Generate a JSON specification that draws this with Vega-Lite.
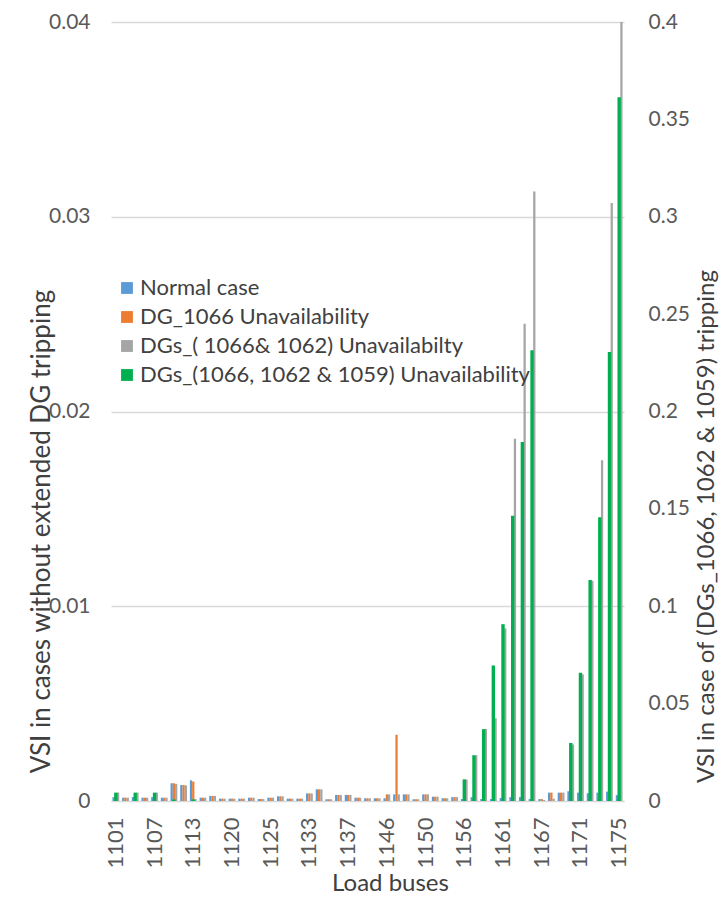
{
  "$schema": "https://vega.github.io/schema/vega-lite/v6.json",
  "width": 513,
  "height": 779,
  "autosize": {"type": "none"},
  "padding": {"left": 111, "top": 22, "right": 103, "bottom": 97},
  "background": "white",
  "config": {
    "font": "Lato",
    "view": {"stroke": null},
    "axis": {"labelFont": "Lato", "titleFont": "Lato", "titleFontWeight": "normal", "labelColor": "#595959", "titleColor": "#404040"}
  },
  "datasets": {
    "primary": [
      {"bus": "1101", "case": "Normal case", "vsi": 0.0002}, {"bus": "1101", "case": " DG_1066 Unavailability", "vsi": 0.0002}, {"bus": "1101", "case": "DGs_( 1066& 1062) Unavailabilty", "vsi": 0.00043},
      {"bus": "1103", "case": "Normal case", "vsi": 0.00017}, {"bus": "1103", "case": " DG_1066 Unavailability", "vsi": 0.00017}, {"bus": "1103", "case": "DGs_( 1066& 1062) Unavailabilty", "vsi": 0.00017},
      {"bus": "1104", "case": "Normal case", "vsi": 0.0002}, {"bus": "1104", "case": " DG_1066 Unavailability", "vsi": 0.0002}, {"bus": "1104", "case": "DGs_( 1066& 1062) Unavailabilty", "vsi": 0.00043},
      {"bus": "1105", "case": "Normal case", "vsi": 0.00017}, {"bus": "1105", "case": " DG_1066 Unavailability", "vsi": 0.00017}, {"bus": "1105", "case": "DGs_( 1066& 1062) Unavailabilty", "vsi": 0.00017},
      {"bus": "1107", "case": "Normal case", "vsi": 0.0002}, {"bus": "1107", "case": " DG_1066 Unavailability", "vsi": 0.0002}, {"bus": "1107", "case": "DGs_( 1066& 1062) Unavailabilty", "vsi": 0.00043},
      {"bus": "1108", "case": "Normal case", "vsi": 0.00017}, {"bus": "1108", "case": " DG_1066 Unavailability", "vsi": 0.00017}, {"bus": "1108", "case": "DGs_( 1066& 1062) Unavailabilty", "vsi": 0.00017},
      {"bus": "1110", "case": "Normal case", "vsi": 0.00091}, {"bus": "1110", "case": " DG_1066 Unavailability", "vsi": 0.00091}, {"bus": "1110", "case": "DGs_( 1066& 1062) Unavailabilty", "vsi": 0.00088},
      {"bus": "1111", "case": "Normal case", "vsi": 0.00082}, {"bus": "1111", "case": " DG_1066 Unavailability", "vsi": 0.00082}, {"bus": "1111", "case": "DGs_( 1066& 1062) Unavailabilty", "vsi": 0.0008},
      {"bus": "1113", "case": "Normal case", "vsi": 0.00106}, {"bus": "1113", "case": " DG_1066 Unavailability", "vsi": 0.001}, {"bus": "1113", "case": "DGs_( 1066& 1062) Unavailabilty", "vsi": 0.0001},
      {"bus": "1115", "case": "Normal case", "vsi": 0.00017}, {"bus": "1115", "case": " DG_1066 Unavailability", "vsi": 0.00017}, {"bus": "1115", "case": "DGs_( 1066& 1062) Unavailabilty", "vsi": 0.00017},
      {"bus": "1116", "case": "Normal case", "vsi": 0.00026}, {"bus": "1116", "case": " DG_1066 Unavailability", "vsi": 0.00026}, {"bus": "1116", "case": "DGs_( 1066& 1062) Unavailabilty", "vsi": 0.00026},
      {"bus": "1118", "case": "Normal case", "vsi": 0.00012}, {"bus": "1118", "case": " DG_1066 Unavailability", "vsi": 0.00012}, {"bus": "1118", "case": "DGs_( 1066& 1062) Unavailabilty", "vsi": 0.00012},
      {"bus": "1120", "case": "Normal case", "vsi": 0.00012}, {"bus": "1120", "case": " DG_1066 Unavailability", "vsi": 0.00012}, {"bus": "1120", "case": "DGs_( 1066& 1062) Unavailabilty", "vsi": 0.00012},
      {"bus": "1121", "case": "Normal case", "vsi": 0.00012}, {"bus": "1121", "case": " DG_1066 Unavailability", "vsi": 0.00012}, {"bus": "1121", "case": "DGs_( 1066& 1062) Unavailabilty", "vsi": 0.00012},
      {"bus": "1122", "case": "Normal case", "vsi": 0.00017}, {"bus": "1122", "case": " DG_1066 Unavailability", "vsi": 0.00017}, {"bus": "1122", "case": "DGs_( 1066& 1062) Unavailabilty", "vsi": 0.00017},
      {"bus": "1124", "case": "Normal case", "vsi": 0.0001}, {"bus": "1124", "case": " DG_1066 Unavailability", "vsi": 0.0001}, {"bus": "1124", "case": "DGs_( 1066& 1062) Unavailabilty", "vsi": 0.0001},
      {"bus": "1125", "case": "Normal case", "vsi": 0.00017}, {"bus": "1125", "case": " DG_1066 Unavailability", "vsi": 0.00017}, {"bus": "1125", "case": "DGs_( 1066& 1062) Unavailabilty", "vsi": 0.00017},
      {"bus": "1127", "case": "Normal case", "vsi": 0.00024}, {"bus": "1127", "case": " DG_1066 Unavailability", "vsi": 0.00024}, {"bus": "1127", "case": "DGs_( 1066& 1062) Unavailabilty", "vsi": 0.00024},
      {"bus": "1129", "case": "Normal case", "vsi": 0.00012}, {"bus": "1129", "case": " DG_1066 Unavailability", "vsi": 0.00012}, {"bus": "1129", "case": "DGs_( 1066& 1062) Unavailabilty", "vsi": 0.00012},
      {"bus": "1131", "case": "Normal case", "vsi": 0.00012}, {"bus": "1131", "case": " DG_1066 Unavailability", "vsi": 0.00012}, {"bus": "1131", "case": "DGs_( 1066& 1062) Unavailabilty", "vsi": 0.00012},
      {"bus": "1133", "case": "Normal case", "vsi": 0.00039}, {"bus": "1133", "case": " DG_1066 Unavailability", "vsi": 0.00039}, {"bus": "1133", "case": "DGs_( 1066& 1062) Unavailabilty", "vsi": 0.00039},
      {"bus": "1134", "case": "Normal case", "vsi": 0.0006}, {"bus": "1134", "case": " DG_1066 Unavailability", "vsi": 0.0006}, {"bus": "1134", "case": "DGs_( 1066& 1062) Unavailabilty", "vsi": 0.0006},
      {"bus": "1135", "case": "Normal case", "vsi": 0.00009}, {"bus": "1135", "case": " DG_1066 Unavailability", "vsi": 0.00009}, {"bus": "1135", "case": "DGs_( 1066& 1062) Unavailabilty", "vsi": 0.00009},
      {"bus": "1136", "case": "Normal case", "vsi": 0.00031}, {"bus": "1136", "case": " DG_1066 Unavailability", "vsi": 0.00031}, {"bus": "1136", "case": "DGs_( 1066& 1062) Unavailabilty", "vsi": 0.00031},
      {"bus": "1137", "case": "Normal case", "vsi": 0.00031}, {"bus": "1137", "case": " DG_1066 Unavailability", "vsi": 0.00031}, {"bus": "1137", "case": "DGs_( 1066& 1062) Unavailabilty", "vsi": 0.00031},
      {"bus": "1139", "case": "Normal case", "vsi": 0.00017}, {"bus": "1139", "case": " DG_1066 Unavailability", "vsi": 0.00017}, {"bus": "1139", "case": "DGs_( 1066& 1062) Unavailabilty", "vsi": 0.00017},
      {"bus": "1141", "case": "Normal case", "vsi": 0.00014}, {"bus": "1141", "case": " DG_1066 Unavailability", "vsi": 0.00014}, {"bus": "1141", "case": "DGs_( 1066& 1062) Unavailabilty", "vsi": 0.00014},
      {"bus": "1144", "case": "Normal case", "vsi": 0.00014}, {"bus": "1144", "case": " DG_1066 Unavailability", "vsi": 0.00014}, {"bus": "1144", "case": "DGs_( 1066& 1062) Unavailabilty", "vsi": 0.00014},
      {"bus": "1146", "case": "Normal case", "vsi": 0.00014}, {"bus": "1146", "case": " DG_1066 Unavailability", "vsi": 0.00034}, {"bus": "1146", "case": "DGs_( 1066& 1062) Unavailabilty", "vsi": 0.00034},
      {"bus": "1147", "case": "Normal case", "vsi": 0.00034}, {"bus": "1147", "case": " DG_1066 Unavailability", "vsi": 0.0034}, {"bus": "1147", "case": "DGs_( 1066& 1062) Unavailabilty", "vsi": 0.00034},
      {"bus": "1148", "case": "Normal case", "vsi": 0.00034}, {"bus": "1148", "case": " DG_1066 Unavailability", "vsi": 0.00034}, {"bus": "1148", "case": "DGs_( 1066& 1062) Unavailabilty", "vsi": 0.00034},
      {"bus": "1149", "case": "Normal case", "vsi": 0.00009}, {"bus": "1149", "case": " DG_1066 Unavailability", "vsi": 0.00009}, {"bus": "1149", "case": "DGs_( 1066& 1062) Unavailabilty", "vsi": 0.00009},
      {"bus": "1150", "case": "Normal case", "vsi": 0.00034}, {"bus": "1150", "case": " DG_1066 Unavailability", "vsi": 0.00034}, {"bus": "1150", "case": "DGs_( 1066& 1062) Unavailabilty", "vsi": 0.00034},
      {"bus": "1152", "case": "Normal case", "vsi": 0.00022}, {"bus": "1152", "case": " DG_1066 Unavailability", "vsi": 0.00022}, {"bus": "1152", "case": "DGs_( 1066& 1062) Unavailabilty", "vsi": 0.00022},
      {"bus": "1153", "case": "Normal case", "vsi": 0.00014}, {"bus": "1153", "case": " DG_1066 Unavailability", "vsi": 0.00014}, {"bus": "1153", "case": "DGs_( 1066& 1062) Unavailabilty", "vsi": 0.00014},
      {"bus": "1155", "case": "Normal case", "vsi": 0.0002}, {"bus": "1155", "case": " DG_1066 Unavailability", "vsi": 0.0002}, {"bus": "1155", "case": "DGs_( 1066& 1062) Unavailabilty", "vsi": 0.0002},
      {"bus": "1156", "case": "Normal case", "vsi": 0.0001}, {"bus": "1156", "case": " DG_1066 Unavailability", "vsi": 0.0001}, {"bus": "1156", "case": "DGs_( 1066& 1062) Unavailabilty", "vsi": 0.0011},
      {"bus": "1157", "case": "Normal case", "vsi": 0.0002}, {"bus": "1157", "case": " DG_1066 Unavailability", "vsi": 0.0002}, {"bus": "1157", "case": "DGs_( 1066& 1062) Unavailabilty", "vsi": 0.00235},
      {"bus": "1158", "case": "Normal case", "vsi": 0.0001}, {"bus": "1158", "case": " DG_1066 Unavailability", "vsi": 0.0001}, {"bus": "1158", "case": "DGs_( 1066& 1062) Unavailabilty", "vsi": 0.0037},
      {"bus": "1160", "case": "Normal case", "vsi": 0.0001}, {"bus": "1160", "case": " DG_1066 Unavailability", "vsi": 0.0001}, {"bus": "1160", "case": "DGs_( 1066& 1062) Unavailabilty", "vsi": 0.00425},
      {"bus": "1161", "case": "Normal case", "vsi": 0.00015}, {"bus": "1161", "case": " DG_1066 Unavailability", "vsi": 0.00015}, {"bus": "1161", "case": "DGs_( 1066& 1062) Unavailabilty", "vsi": 0.00886},
      {"bus": "1162", "case": "Normal case", "vsi": 0.0002}, {"bus": "1162", "case": " DG_1066 Unavailability", "vsi": 0.0002}, {"bus": "1162", "case": "DGs_( 1066& 1062) Unavailabilty", "vsi": 0.0186},
      {"bus": "1164", "case": "Normal case", "vsi": 0.0002}, {"bus": "1164", "case": " DG_1066 Unavailability", "vsi": 0.0002}, {"bus": "1164", "case": "DGs_( 1066& 1062) Unavailabilty", "vsi": 0.0245},
      {"bus": "1165", "case": "Normal case", "vsi": 0.0001}, {"bus": "1165", "case": " DG_1066 Unavailability", "vsi": 0.0001}, {"bus": "1165", "case": "DGs_( 1066& 1062) Unavailabilty", "vsi": 0.0313},
      {"bus": "1167", "case": "Normal case", "vsi": 0.0001}, {"bus": "1167", "case": " DG_1066 Unavailability", "vsi": 0.0001}, {"bus": "1167", "case": "DGs_( 1066& 1062) Unavailabilty", "vsi": 0.00005},
      {"bus": "1168", "case": "Normal case", "vsi": 0.00043}, {"bus": "1168", "case": " DG_1066 Unavailability", "vsi": 0.00043}, {"bus": "1168", "case": "DGs_( 1066& 1062) Unavailabilty", "vsi": 0.00012},
      {"bus": "1169", "case": "Normal case", "vsi": 0.00043}, {"bus": "1169", "case": " DG_1066 Unavailability", "vsi": 0.00043}, {"bus": "1169", "case": "DGs_( 1066& 1062) Unavailabilty", "vsi": 0.00043},
      {"bus": "1170", "case": "Normal case", "vsi": 0.0005}, {"bus": "1170", "case": " DG_1066 Unavailability", "vsi": 0.0004}, {"bus": "1170", "case": "DGs_( 1066& 1062) Unavailabilty", "vsi": 0.0029},
      {"bus": "1171", "case": "Normal case", "vsi": 0.00043}, {"bus": "1171", "case": " DG_1066 Unavailability", "vsi": 0.0004}, {"bus": "1171", "case": "DGs_( 1066& 1062) Unavailabilty", "vsi": 0.0065},
      {"bus": "1172", "case": "Normal case", "vsi": 0.0004}, {"bus": "1172", "case": " DG_1066 Unavailability", "vsi": 0.0004}, {"bus": "1172", "case": "DGs_( 1066& 1062) Unavailabilty", "vsi": 0.0113},
      {"bus": "1173", "case": "Normal case", "vsi": 0.00043}, {"bus": "1173", "case": " DG_1066 Unavailability", "vsi": 0.0004}, {"bus": "1173", "case": "DGs_( 1066& 1062) Unavailabilty", "vsi": 0.0175},
      {"bus": "1174", "case": "Normal case", "vsi": 0.00048}, {"bus": "1174", "case": " DG_1066 Unavailability", "vsi": 0.0004}, {"bus": "1174", "case": "DGs_( 1066& 1062) Unavailabilty", "vsi": 0.0307},
      {"bus": "1175", "case": "Normal case", "vsi": 0.0003}, {"bus": "1175", "case": " DG_1066 Unavailability", "vsi": 0.0003}, {"bus": "1175", "case": "DGs_( 1066& 1062) Unavailabilty", "vsi": 0.04}
    ],
    "secondary": [
      {"bus": "1101", "case": "DGs_(1066, 1062 & 1059) Unavailability", "vsi": 0.0043},
      {"bus": "1103", "case": "DGs_(1066, 1062 & 1059) Unavailability", "vsi": 0},
      {"bus": "1104", "case": "DGs_(1066, 1062 & 1059) Unavailability", "vsi": 0.0043},
      {"bus": "1105", "case": "DGs_(1066, 1062 & 1059) Unavailability", "vsi": 0},
      {"bus": "1107", "case": "DGs_(1066, 1062 & 1059) Unavailability", "vsi": 0.0043},
      {"bus": "1108", "case": "DGs_(1066, 1062 & 1059) Unavailability", "vsi": 0},
      {"bus": "1110", "case": "DGs_(1066, 1062 & 1059) Unavailability", "vsi": 0.0008},
      {"bus": "1111", "case": "DGs_(1066, 1062 & 1059) Unavailability", "vsi": 0},
      {"bus": "1113", "case": "DGs_(1066, 1062 & 1059) Unavailability", "vsi": 0.0008},
      {"bus": "1156", "case": "DGs_(1066, 1062 & 1059) Unavailability", "vsi": 0.0111},
      {"bus": "1157", "case": "DGs_(1066, 1062 & 1059) Unavailability", "vsi": 0.0235},
      {"bus": "1158", "case": "DGs_(1066, 1062 & 1059) Unavailability", "vsi": 0.0369},
      {"bus": "1160", "case": "DGs_(1066, 1062 & 1059) Unavailability", "vsi": 0.0696},
      {"bus": "1161", "case": "DGs_(1066, 1062 & 1059) Unavailability", "vsi": 0.0908},
      {"bus": "1162", "case": "DGs_(1066, 1062 & 1059) Unavailability", "vsi": 0.1465},
      {"bus": "1164", "case": "DGs_(1066, 1062 & 1059) Unavailability", "vsi": 0.1844},
      {"bus": "1165", "case": "DGs_(1066, 1062 & 1059) Unavailability", "vsi": 0.2314},
      {"bus": "1167", "case": "DGs_(1066, 1062 & 1059) Unavailability", "vsi": 0},
      {"bus": "1168", "case": "DGs_(1066, 1062 & 1059) Unavailability", "vsi": 0},
      {"bus": "1169", "case": "DGs_(1066, 1062 & 1059) Unavailability", "vsi": 0},
      {"bus": "1170", "case": "DGs_(1066, 1062 & 1059) Unavailability", "vsi": 0.0298},
      {"bus": "1171", "case": "DGs_(1066, 1062 & 1059) Unavailability", "vsi": 0.0658},
      {"bus": "1172", "case": "DGs_(1066, 1062 & 1059) Unavailability", "vsi": 0.1135},
      {"bus": "1173", "case": "DGs_(1066, 1062 & 1059) Unavailability", "vsi": 0.1457},
      {"bus": "1174", "case": "DGs_(1066, 1062 & 1059) Unavailability", "vsi": 0.2305},
      {"bus": "1175", "case": "DGs_(1066, 1062 & 1059) Unavailability", "vsi": 0.3613}
    ]
  },
  "encoding": {
    "x": {
      "field": "bus", "type": "nominal", "sort": null,
      "scale": {"paddingInner": 0.3, "paddingOuter": 0.15},
      "axis": {
        "title": "Load buses", "titleFontSize": 24, "titleX": 279, "titleY": 82, "titleBaseline": "middle",
        "values": ["1101","1107","1113","1120","1125","1133","1137","1146","1150","1156","1161","1167","1171","1175"],
        "labelAngle": 270, "labelAlign": "right", "labelBaseline": "middle", "labelFontSize": 22, "labelPadding": 16,
        "ticks": false, "domain": true, "domainColor": "#D9D9D9", "grid": false
      }
    },
    "color": {
      "field": "case", "type": "nominal",
      "scale": {
        "domain": ["Normal case", " DG_1066 Unavailability", "DGs_( 1066& 1062) Unavailabilty", "DGs_(1066, 1062 & 1059) Unavailability"],
        "range": ["#5B9BD5", "#ED7D31", "#A5A5A5", "#00B050"]
      },
      "legend": {
        "title": null, "orient": "none", "legendX": 5, "legendY": 255,
        "symbolType": "square", "symbolSize": 140, "symbolStrokeWidth": 0,
        "labelFontSize": 22, "labelColor": "#404040", "labelFont": "Lato", "labelLimit": 600,
        "rowPadding": 7, "symbolOffset": 0, "labelOffset": 2
      }
    }
  },
  "layer": [
    {
      "data": {"name": "primary"},
      "mark": {"type": "bar"},
      "encoding": {
        "xOffset": {"field": "case", "type": "nominal", "scale": {"domain": ["Normal case", " DG_1066 Unavailability", "DGs_( 1066& 1062) Unavailabilty"], "paddingInner": 0}},
        "y": {
          "field": "vsi", "type": "quantitative",
          "scale": {"domain": [0, 0.04], "nice": false},
          "axis": {
            "title": "VSI in cases without extended DG tripping", "titleFontSize": 26,
            "titleAngle": 270, "titleX": -70, "titleY": 509, "titleAlign": "center", "titleBaseline": "middle",
            "values": [0, 0.01, 0.02, 0.03, 0.04], "format": "~g",
            "labelFontSize": 21, "labelPadding": 21,
            "grid": true, "gridColor": "#D9D9D9", "gridWidth": 1.3, "domain": false, "ticks": false
          }
        }
      }
    },
    {
      "data": {"name": "secondary"},
      "mark": {"type": "bar", "width": {"band": 0.5}},
      "encoding": {
        "y": {
          "field": "vsi", "type": "quantitative",
          "scale": {"domain": [0, 0.4], "nice": false},
          "axis": {
            "orient": "right",
            "title": "VSI in case of (DGs_1066, 1062 & 1059) tripping", "titleFontSize": 24,
            "titleAngle": 270, "titleX": 82, "titleY": 504, "titleAlign": "center", "titleBaseline": "middle",
            "values": [0, 0.05, 0.1, 0.15, 0.2, 0.25, 0.3, 0.35, 0.4], "format": "~g",
            "labelFontSize": 21, "labelPadding": 24,
            "grid": false, "domain": false, "ticks": false
          }
        }
      }
    }
  ],
  "resolve": {"scale": {"y": "independent"}, "axis": {"y": "independent"}}
}
